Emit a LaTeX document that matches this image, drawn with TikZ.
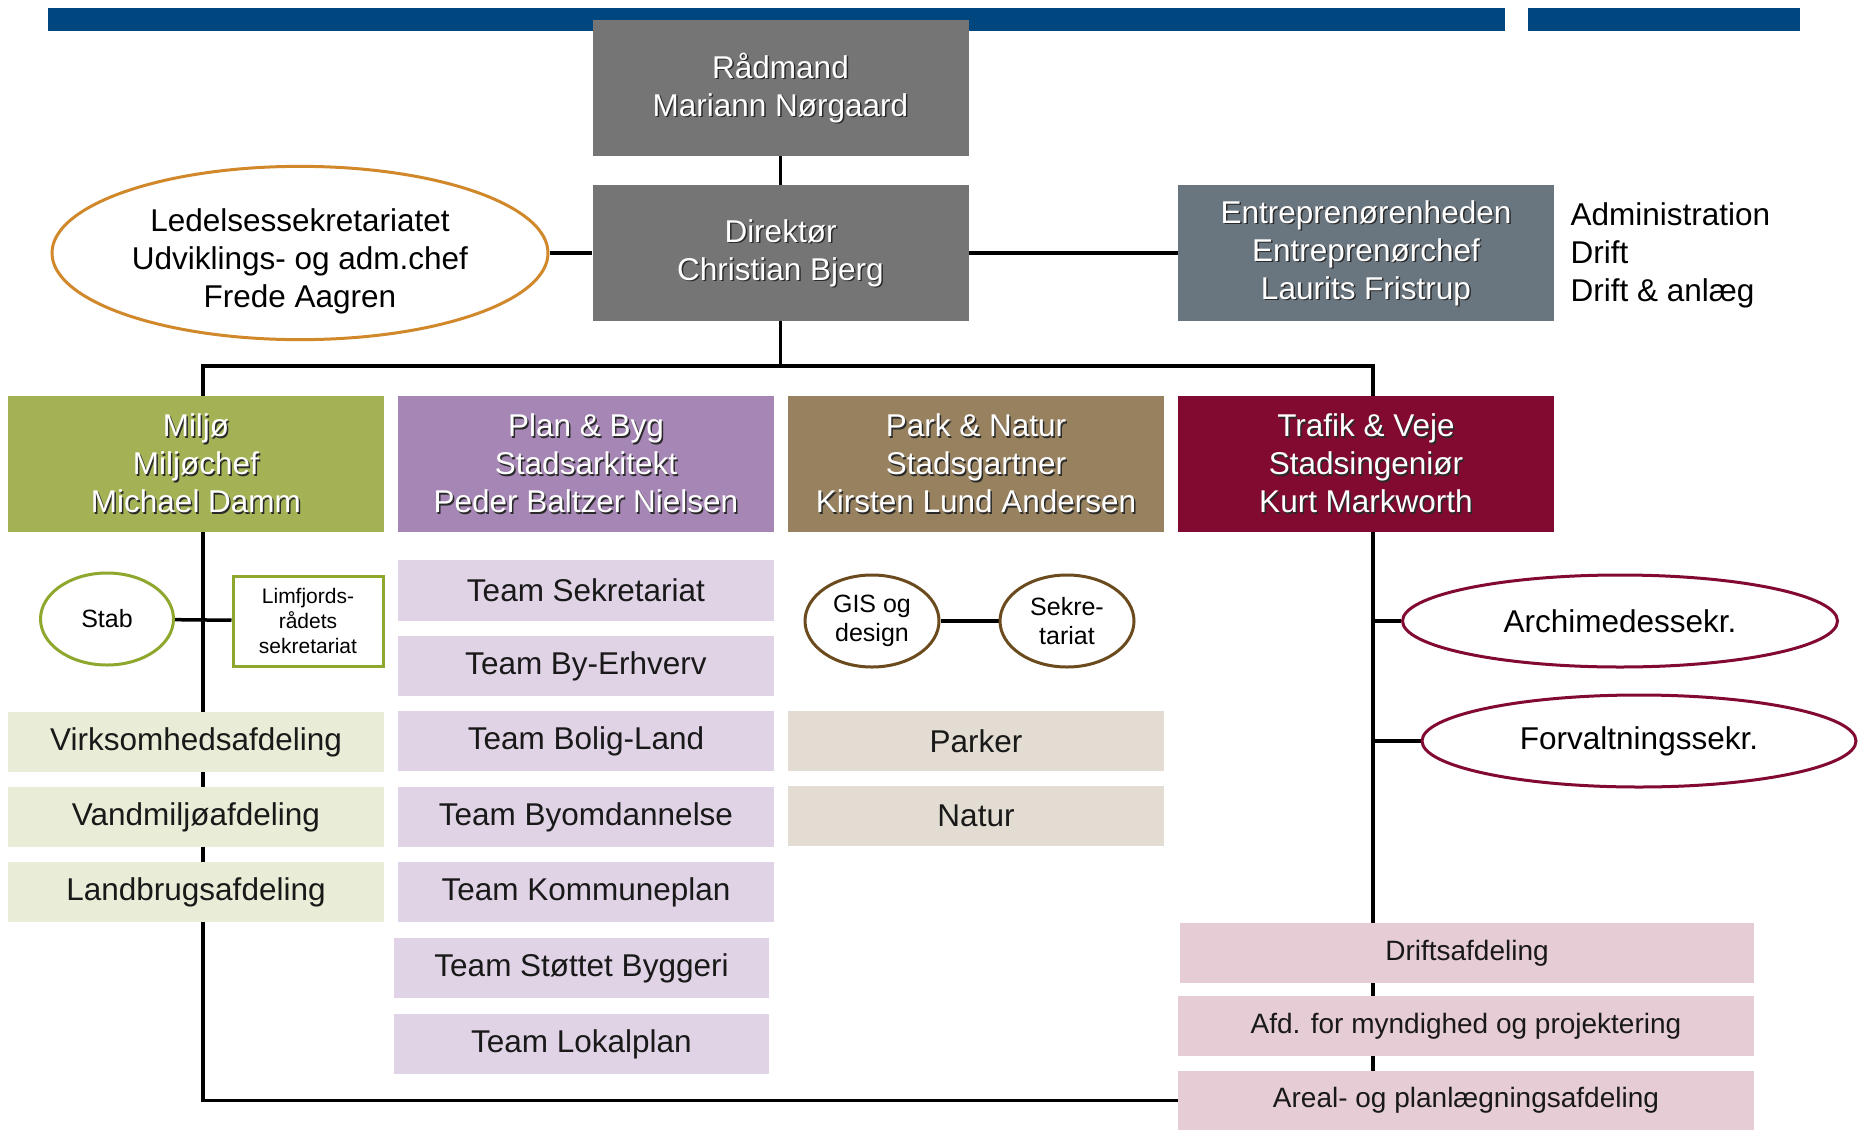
\documentclass[tikz,border=0pt]{standalone}
\usepackage{fontspec}
\setmainfont{Liberation Sans}
\usetikzlibrary{shapes.geometric,backgrounds}
\definecolor{barblue}{HTML}{00467F}
\definecolor{bossgray}{HTML}{757575}
\definecolor{entrgray}{HTML}{69757F}
\definecolor{miljoc}{HTML}{A4B255}
\definecolor{planc}{HTML}{A586B5}
\definecolor{parkc}{HTML}{97815E}
\definecolor{trafikc}{HTML}{820A30}
\definecolor{miljolt}{HTML}{E9ECD6}
\definecolor{planlt}{HTML}{DFD3E5}
\definecolor{parklt}{HTML}{E3DCD2}
\definecolor{trafiklt}{HTML}{E6CDD5}
\definecolor{ledorange}{HTML}{D0882A}
\definecolor{stabgreen}{HTML}{8EA82E}
\definecolor{gisbrown}{HTML}{6B4B1E}
\definecolor{shadowc}{HTML}{2A2A2A}
\newcommand{\shd}[1]{\leavevmode\rlap{\kern1.5pt\raisebox{-1.5pt}[0pt][0pt]{\color{shadowc}#1}}#1}
\tikzset{
  boss/.style={fill=#1, text=white, minimum width=376pt, minimum height=136pt,
    inner sep=0pt, align=center, font=\fontsize{31.5}{38}\selectfont},
  subbox/.style={fill=#1, text=black!90, minimum width=376pt, minimum height=60pt,
    inner sep=0pt, font=\fontsize{31.5}{38}\selectfont},
  oval/.style={ellipse, draw=#1, line width=3pt, fill=white, inner sep=0pt,
    align=center, font=\fontsize{31.5}{38}\selectfont},
  wire/.style={line width=3.5pt}
}
\begin{document}
\begin{tikzpicture}[x=1pt,y=-1pt]
\useasboundingbox (0,0) rectangle (1858,1130);
\fill[barblue] (48,8) rectangle (1505,31); % top bar
\fill[barblue] (1528,8) rectangle (1800,31); % top bar, right part
% top of the chart
\node[boss=bossgray] (rad) at (780.5,88) {\shd{Rådmand}\\\shd{Mariann Nørgaard}};
\node[boss=bossgray] (dir) at (780.5,253) {\shd{Direktør}\\\shd{Christian Bjerg}};
\node[boss=entrgray] (entr) at (1366,253) {\shd{Entreprenørenheden}\\\shd{Entreprenørchef}\\\shd{Laurits Fristrup}};
\node[anchor=west, align=left, font=\fontsize{31.5}{38}\selectfont] (admin) at (1567,255) {Administration\\Drift\\Drift \& anlæg}; % beside Entreprenørenheden
\node[oval=ledorange, minimum width=496pt, minimum height=168pt] (led) at (300,253) {\rule{0pt}{40pt}Ledelsessekretariatet\\Udviklings- og adm.chef\\Frede Aagren};
% the four departments
\node[boss=miljoc] (miljo) at (196,463.5) {\shd{Miljø}\\\shd{Miljøchef}\\\shd{Michael Damm}};
\node[boss=planc] (plan) at (586,463.5) {\shd{Plan \& Byg}\\\shd{Stadsarkitekt}\\\shd{Peder Baltzer Nielsen}};
\node[boss=parkc] (park) at (976,463.5) {\shd{Park \& Natur}\\\shd{Stadsgartner}\\\shd{Kirsten Lund Andersen}};
\node[boss=trafikc] (trafik) at (1366,463.5) {\shd{Trafik \& Veje}\\\shd{Stadsingeniør}\\\shd{Kurt Markworth}};
% Miljø
\node[oval=stabgreen, minimum width=133pt, minimum height=92pt, font=\fontsize{25}{29}\selectfont] (stab) at (107,619) {Stab};
\node[draw=stabgreen, line width=3pt, fill=white, minimum width=150pt, minimum height=90pt, inner sep=0pt, align=center, font=\fontsize{21}{25}\selectfont] (limf) at (308,621) {Limfjords-\\rådets\\sekretariat};
\node[subbox=miljolt] (virk) at (196,742) {Virksomhedsafdeling};
\node[subbox=miljolt] (vand) at (196,817) {Vandmiljøafdeling};
\node[subbox=miljolt] (land) at (196,892) {Landbrugsafdeling};
% Plan & Byg
\node[subbox=planlt, minimum height=61pt] (tsek) at (586,590.5) {Team Sekretariat};
\node[subbox=planlt] (tbye) at (586,666) {Team By-Erhverv};
\node[subbox=planlt] (tbol) at (586,741) {Team Bolig-Land};
\node[subbox=planlt] (tbyo) at (586,817) {Team Byomdannelse};
\node[subbox=planlt] (tkom) at (586,892) {Team Kommuneplan};
\node[subbox=planlt, minimum width=375pt] (tstb) at (581.5,968) {Team Støttet Byggeri};
\node[subbox=planlt, minimum width=375pt] (tlok) at (581.5,1044) {Team Lokalplan};
% Park & Natur
\node[oval=gisbrown, minimum width=134pt, minimum height=92pt, font=\fontsize{25}{29}\selectfont] (gis) at (872,621) {GIS og\\design};
\node[oval=gisbrown, minimum width=134pt, minimum height=92pt, font=\fontsize{25}{29}\selectfont] (psek) at (1067,621) {Sekre-\\tariat};
\node[subbox=parklt] (park1) at (976,741) {Parker};
\node[subbox=parklt] (natur) at (976,816) {Natur};
% Trafik & Veje
\node[oval=trafikc, minimum width=435pt, minimum height=92pt] (arch) at (1620,621) {Archimedessekr.};
\node[oval=trafikc, minimum width=434pt, minimum height=92pt] (forv) at (1639,741) {Forvaltningssekr.};
\node[subbox=trafiklt, minimum width=574pt, font=\fontsize{28}{34}\selectfont] (drift) at (1467,953) {Driftsafdeling};
\node[subbox=trafiklt, minimum width=576pt, font=\fontsize{28}{34}\selectfont] (afd) at (1466,1026) {Afd. for myndighed og projektering};
\node[subbox=trafiklt, minimum width=576pt, minimum height=59pt, font=\fontsize{28}{34}\selectfont] (areal) at (1466,1100.5) {Areal- og planlægningsafdeling};
% wiring
\begin{scope}[on background layer]
\coordinate (bus) at (780.5,366);
\coordinate[xshift=7pt] (mcol) at (miljo); % Miljø column line
\coordinate[xshift=7pt] (tcol) at (trafik); % Trafik column line
\draw[wire] (rad) -- (dir);
\draw[wire] (led) -- (dir) -- (entr);
\draw[wire] (dir) -- (bus);
\draw[wire] (mcol) |- (bus) -| (tcol);
\draw[wire] (mcol) -- (mcol |- areal) -- (areal);
\draw[wire] (tcol) -- (tcol |- areal);
\draw[wire] (stab) -- (limf);
\draw[wire] (gis) -- (psek);
\draw[wire] (tcol |- arch) -- (arch);
\draw[wire] (tcol |- forv) -- (forv);
\end{scope}
\end{tikzpicture}
\end{document}
